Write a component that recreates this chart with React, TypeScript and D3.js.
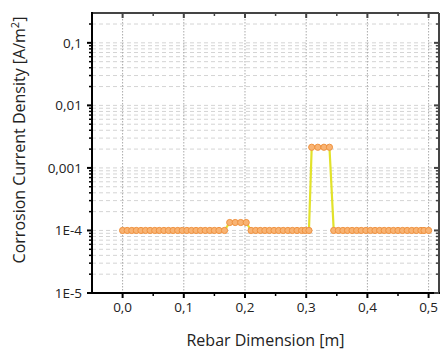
import React from "react";
import * as d3 from "d3";

const W = 441;
const H = 352;

// Data
const seg1X = [0, 0.0075, 0.015, 0.0225, 0.03, 0.0375, 0.045, 0.0525, 0.06, 0.0675, 0.075, 0.0825, 0.09, 0.0975, 0.105, 0.1125, 0.12, 0.1275, 0.135, 0.1425, 0.15, 0.1575, 0.1665];
const seg2X = [0.175, 0.184, 0.193, 0.202];
const seg3X = [0.21, 0.2175, 0.225, 0.2325, 0.24, 0.2475, 0.255, 0.2625, 0.27, 0.2775, 0.285, 0.2925, 0.2985, 0.3045];
const seg4X = [0.309, 0.319, 0.329, 0.338];
const seg5X = [0.345, 0.3525, 0.36, 0.3675, 0.375, 0.3825, 0.39, 0.3975, 0.405, 0.4125, 0.42, 0.4275, 0.435, 0.4425, 0.45, 0.4575, 0.465, 0.4725, 0.48, 0.4875, 0.4925, 0.5];
const seg1Y = 1.0e-4;
const seg2Y = 1.34e-4;
const seg3Y = 1.0e-4;
const seg4Y = 2.14e-3;
const seg5Y = 1.0e-4;

const xTickValues = [0, 0.1, 0.2, 0.3, 0.4, 0.5];
const xTickLabels = ["0,0", "0,1", "0,2", "0,3", "0,4", "0,5"];
const xMinorValues = [-0.05, 0.05, 0.15, 0.25, 0.35, 0.45];
const yTickValues = [1e-5, 1e-4, 1e-3, 1e-2, 1e-1];
const yTickLabels = ["1E-5", "1E-4", "0,001", "0,01", "0,1"];
const yMinorMultipliers = [2, 3, 4, 5, 6, 7, 8, 9];

const xTitle = "Rebar Dimension [m]";
const yTitleMain = "Corrosion Current Density [A/m";

export default function App() {
  const left = 92, right = 439, top = 13, bottom = 293;
  const x = d3.scaleLinear().domain([-0.05, 0.517]).range([left, right]);
  const y = d3.scaleLog().domain([1e-5, 0.3]).range([bottom, top]);

  const segs: [number[], number][] = [
    [seg1X, seg1Y], [seg2X, seg2Y], [seg3X, seg3Y], [seg4X, seg4Y], [seg5X, seg5Y],
  ];
  const pts: [number, number][] = [];
  segs.forEach(([xs, v]) => xs.forEach((xv) => pts.push([xv, v])));

  const line = d3.line<[number, number]>().x((d) => x(d[0])).y((d) => y(d[1]));

  const minorY: number[] = [];
  yTickValues.forEach((v) => yMinorMultipliers.forEach((m) => {
    const val = v * m;
    if (val < 0.3) minorY.push(val);
  }));
  const gridY = [...yTickValues, ...minorY];

  const font = "'Open Sans', 'Noto Sans', sans-serif";

  return (
    <svg width={W} height={H} style={{ position: "absolute", left: 0, top: 0, background: "#fff" }}>
      <rect x={0} y={0} width={W} height={H} fill="#fff" />
      {/* horizontal grid */}
      {gridY.map((v, i) => (
        <line key={"gy" + i} x1={left} x2={right} y1={y(v)} y2={y(v)} stroke="#d4d4d4" strokeWidth={1} strokeDasharray="4,3" />
      ))}
      {/* vertical grid */}
      {xTickValues.map((v, i) => (
        <line key={"gx" + i} x1={x(v)} x2={x(v)} y1={top} y2={bottom} stroke="#aaa" strokeWidth={1} strokeDasharray="1.5,1.5" />
      ))}
      {/* data line */}
      <path d={line(pts) || ""} fill="none" stroke="#e2e22a" strokeWidth={2.2} />
      {pts.map((p, i) => (
        <circle key={"p" + i} cx={x(p[0])} cy={y(p[1])} r={3.1} fill="#f8b373" stroke="#f0923f" strokeWidth={1} />
      ))}
      {/* frame */}
      <line x1={left} x2={right} y1={top} y2={top} stroke="#444" strokeWidth={2} />
      <line x1={right} x2={right} y1={top} y2={bottom} stroke="#444" strokeWidth={2} />
      <line x1={left} x2={left} y1={top - 1} y2={bottom + 1} stroke="#000" strokeWidth={2} />
      <line x1={left - 1} x2={right + 1} y1={bottom} y2={bottom} stroke="#000" strokeWidth={2} />
      {/* x ticks bottom & top */}
      {xTickValues.map((v, i) => (
        <g key={"xt" + i}>
          <line x1={x(v)} x2={x(v)} y1={bottom} y2={bottom + 5} stroke="#000" strokeWidth={2} />
          <line x1={x(v)} x2={x(v)} y1={top} y2={top + 5} stroke="#444" strokeWidth={2} />
          <text x={x(v)} y={312} textAnchor="middle" fontFamily={font} fontSize={13.5} fill="#222">{xTickLabels[i]}</text>
        </g>
      ))}
      {xMinorValues.filter((v) => x(v) > left + 1).map((v, i) => (
        <g key={"xm" + i}>
          <line x1={x(v)} x2={x(v)} y1={bottom} y2={bottom + 3} stroke="#000" strokeWidth={1.5} />
          <line x1={x(v)} x2={x(v)} y1={top} y2={top + 3} stroke="#444" strokeWidth={1.5} />
        </g>
      ))}
      {/* y ticks left & right */}
      {yTickValues.map((v, i) => (
        <g key={"yt" + i}>
          <line x1={left - 5} x2={left} y1={y(v)} y2={y(v)} stroke="#000" strokeWidth={2} />
          <line x1={right - 5} x2={right} y1={y(v)} y2={y(v)} stroke="#444" strokeWidth={2} />
          <text x={82} y={y(v) + 4.8} textAnchor="end" fontFamily={font} fontSize={13.5} fill="#222">{yTickLabels[i]}</text>
        </g>
      ))}
      {minorY.map((v, i) => (
        <g key={"ym" + i}>
          <line x1={left - 3} x2={left} y1={y(v)} y2={y(v)} stroke="#000" strokeWidth={1.5} />
          <line x1={right - 3} x2={right} y1={y(v)} y2={y(v)} stroke="#444" strokeWidth={1.5} />
        </g>
      ))}
      {/* titles */}
      <text x={(left + right) / 2} y={346} textAnchor="middle" fontFamily={font} fontSize={16} fill="#222">{xTitle}</text>
      <text transform={`translate(25, ${140}) rotate(-90)`} textAnchor="middle" fontFamily={font} fontSize={16} fill="#222">
        {yTitleMain}
        <tspan dy={-6} fontSize={11}>2</tspan>
        <tspan dy={6}>]</tspan>
      </text>
    </svg>
  );
}
